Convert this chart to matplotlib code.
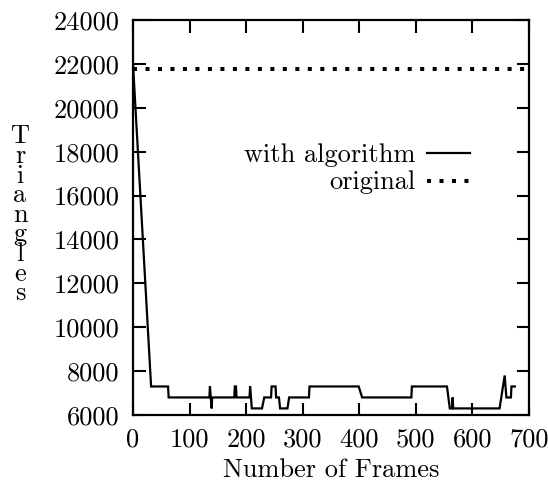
import matplotlib
matplotlib.use("Agg")
import matplotlib.pyplot as plt

plt.rcParams['font.family'] = 'serif'
plt.rcParams['font.serif'] = ['cmr10', 'DejaVu Serif']
plt.rcParams['axes.unicode_minus'] = False
plt.rcParams['axes.formatter.use_mathtext'] = True

# Data
frames = [0, 32, 62, 63, 135, 136, 139, 140, 179, 180, 182, 183, 206, 207, 210,
          228, 232, 244, 245, 252, 253, 258, 260, 273, 276, 311, 312, 399, 405,
          492, 493, 555, 560, 564, 565, 566, 648, 657, 660, 668, 669, 675]
with_algorithm = [22000, 7300, 7300, 6800, 6800, 7300, 6300, 6800, 6800, 7300, 7300,
                  6800, 6800, 7300, 6300, 6300, 6800, 6800, 7300, 7300, 6800, 6800,
                  6300, 6300, 6800, 6800, 7300, 7300, 6800, 6800, 7300, 7300, 6300,
                  6300, 6800, 6300, 6300, 7800, 6800, 6800, 7300, 7300]
orig_frames = [0, 700]
original = [21750, 21750]

xticks = [0, 100, 200, 300, 400, 500, 600, 700]
yticks = [6000, 8000, 10000, 12000, 14000, 16000, 18000, 20000, 22000, 24000]

W, H = 548, 484
fig = plt.figure(figsize=(W / 100, H / 100), dpi=100)
ax = fig.add_axes([133 / W, 1 - 415 / H, (529 - 133) / W, (415 - 20) / H])

ax.plot(frames, with_algorithm, color='black', lw=1.6, solid_joinstyle='miter')
ax.plot(orig_frames, original, color='black', lw=2.9, linestyle=(0, (1, 2.1)),
        dash_capstyle='butt')

ax.set_xlim(0, 700)
ax.set_ylim(6000, 24000)
ax.set_xticks(xticks)
ax.set_yticks(yticks)
ax.set_xticklabels([str(v) for v in xticks])
ax.set_yticklabels([str(v) for v in yticks])
ax.tick_params(direction='in', length=9, width=1.5, top=True, right=True,
               labelsize=19, pad=10, colors='black')
ax.tick_params(axis='x', pad=9)
for s in ax.spines.values():
    s.set_linewidth(1.6)

fs = 19
# legend (gnuplot style)
fig.text(415 / W, 1 - 155 / H, 'with algorithm', ha='right', va='center', fontsize=fs)
fig.text(415 / W, 1 - 182 / H, 'original', ha='right', va='center', fontsize=fs)
fig.add_artist(plt.Line2D([427 / W, 470 / W], [1 - 153 / H, 1 - 153 / H],
                          color='black', lw=1.6))
fig.add_artist(plt.Line2D([427 / W, 474 / W], [1 - 181 / H, 1 - 181 / H],
                          color='black', lw=2.9, linestyle=(0, (1, 2.1)),
                          dash_capstyle='butt'))

# x label
fig.text(331 / W, 1 - 470 / H, 'Number of Frames', ha='center', va='center', fontsize=fs)

# stacked y label
fig.text(20 / W, 1 - 215 / H, '\n'.join('Triangles'), ha='center', va='center',
         multialignment='center', fontsize=fs, linespacing=0.78)

fig.savefig('out.png', dpi=100)
